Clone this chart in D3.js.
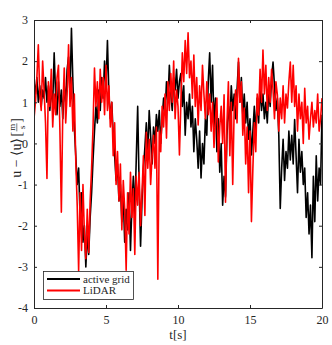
<!DOCTYPE html>
<html>
<head>
<meta charset="utf-8">
<script src="https://cdn.jsdelivr.net/npm/d3@7"></script>
<style>
  body { margin: 0; background: #fff; }
  text { font-family: "Liberation Serif", "DejaVu Serif", serif; fill: #262626; }
</style>
</head>
<body>
<div id="chart"></div>
<script>
// sampling of both records (seconds)
var tStart = 0, tStep = 0.1;

// velocity fluctuation u - <u> [m/s], one value per sample
var activeGrid = [
  1.5, 1.2, 1.6, 1.0, 1.4, 0.9, 1.3, 1.1, 1.6, 1.0,
  1.4, 0.8, 1.3, 1.0, 2.2, 1.2, 0.7, 1.5, 0.9, 1.3,
  0.6, 1.4, 1.0, 1.8, 2.1, 1.2, 2.8, 1.5, 0.4, -0.3,
  -1.0, -0.6, -1.8, -1.2, -2.4, -2.0, -3.0, -2.2, -2.7, -1.8,
  -1.2, -0.4, 0.3, 0.9, 0.5, 1.3, 0.8, 1.6, 1.1, 2.0,
  1.4, 2.5, 1.2, 0.6, 1.0, 0.2, -0.3, -0.9, -0.5, -1.4,
  -1.0, -1.9, -1.3, -2.4, -1.6, -2.1, -1.2, -2.6, -1.5, -0.8,
  -1.7, -0.4, 0.9, -1.0, -2.5, -1.4, -0.6, -0.1, 0.5, -0.3,
  0.8, 0.2, -0.5, 0.4, 0.0, 0.7, 0.3, 0.8, 0.0, 0.6,
  1.1, 0.7, 1.5, 1.0, 1.9, 1.2, 0.8, 1.6, 1.3, 1.8,
  1.1, 1.5, 1.7, 0.9, 1.4, 0.2, 1.0, 0.6, 1.2, 0.4,
  0.9, -0.2, 0.6, 0.1, -0.6, 0.3, -0.84, 0.0, -0.5, 0.6,
  0.2, 1.5, 2.2, 1.0, 1.9, 0.4, 1.1, -0.2, 0.6, -0.7,
  0.0, -1.5, -0.8, -1.3, 0.2, 0.9, 0.5, 1.4, 0.8, 1.2,
  0.6, 1.3, 1.98, 1.0, 1.6, 0.7, 1.2, 0.5, 1.0, 0.1,
  0.6, -0.28, 0.3, 0.9, 0.2, 1.1, 0.5, 1.4, 0.8, 1.2,
  0.6, 1.0, 0.5, 1.3, 0.9, 1.6, 1.98, 1.4, 0.8, 1.1,
  0.2, -1.58, -0.6, 0.1, -0.9, -0.2, -0.6, 0.3, -0.4, 0.2,
  -0.5, 0.58, -0.3, -1.2, 0.1, -0.7, -0.2, -1.0, -0.6, -1.8,
  -1.2, -2.2, -1.5, -2.78, -0.8, -1.9, -0.3, -1.4, -0.6, -1.0,
  0.7
];

var lidar = [
  0.6, 1.0, 1.6, 2.4, 1.2, 0.8, 2.0, 1.3, 0.5, -0.85,
  1.5, 0.9, 1.8, 0.4, 1.2, 0.7, 1.6, 1.9, 0.3, -1.67,
  0.8, 1.83, 0.5, 1.2, 2.4, 0.9, 1.6, 0.3, 1.2, -0.4,
  -1.5, -3.1, -1.2, -2.6, -1.0, -2.2, -2.8, -1.6, -2.65, -1.4,
  -0.6, 0.4, 1.83, 0.9, 1.5, 0.6, 1.8, 1.0, 1.6, 0.7,
  1.9, 0.8, 1.4, 0.4, 1.0, -0.3, 0.5, -1.0, -0.2, -1.4,
  -0.5, -2.1, -0.9, -1.6, -3.08, -1.2, -2.2, -0.7, -1.8, -1.1,
  -2.7, -0.8, -1.5, -0.7, -2.0, -1.2, -0.3, -1.75, 0.27, -0.6,
  0.1, -1.0, -0.3, 0.2, -0.6, 0.4, -3.3, 0.3, -0.2, 0.9,
  0.4, 1.2, 0.13, 1.5, 0.8, 1.7, 1.0, 2.0, 0.6, 1.3,
  0.9, -0.28, 1.0, 2.2, 1.5, 2.5, 1.7, 2.69, 1.6, 2.0,
  1.1, 2.15, 0.9, 1.6, 0.45, 1.4, 0.8, 1.9, 1.2, 0.6,
  1.5, 0.7, 1.2, 0.3, 1.0, -0.1, 0.6, 1.1, -0.45, 0.4,
  0.9, 0.0, 1.18, -1.43, 0.5, 1.5, -0.3, 1.0, -1.0, 0.8,
  1.3, 0.5, 2.07, 1.0, 1.5, 0.2, 0.86, -0.5, 0.4, -1.2,
  0.3, -1.9, -0.6, 0.5, -0.2, 1.2, 0.69, 1.8, 1.0, 2.27,
  1.2, 1.9, 0.8, 1.6, 1.0, 1.8, 1.3, 0.6, 1.5, 1.18,
  0.3, 1.1, 0.6, 1.4, 0.5, 1.2, 0.86, 1.5, 1.98, 1.0,
  1.9, 0.9, 1.4, 0.3, 1.2, 0.6, 1.0, 0.0, 1.34, 0.5,
  0.9, 0.1, 0.6, 1.0, 0.4, 0.8, 0.5, 1.2, 0.3, 0.6,
  1.1
];

var seriesNames = ["active grid", "LiDAR"];
var seriesColors = ["#000000", "#ff0000"];
var xTicks = [0, 5, 10, 15, 20];
var yTicks = [-4, -3, -2, -1, 0, 1, 2, 3];

// set the dimensions and margins of the graph
var margin = {top: 20, right: 10, bottom: 37, left: 34},
    outerWidth = 332, outerHeight = 345,
    width = outerWidth - margin.left - margin.right,
    height = outerHeight - margin.top - margin.bottom;

var axisColor = "#262626", tickLen = 3;
var fontStack = "'Liberation Serif', 'DejaVu Serif', serif";

var svg = d3.select("#chart").append("svg")
    .attr("width", outerWidth)
    .attr("height", outerHeight);

var g = svg.append("g")
    .attr("transform", "translate(" + margin.left + "," + margin.top + ")");

// set the ranges
var x = d3.scaleLinear().domain([0, 20]).range([0, width]);
var y = d3.scaleLinear().domain([-4, 3]).range([height, 0]);

// clip lines to the axes box
g.append("clipPath").attr("id", "plotClip")
  .append("rect").attr("width", width).attr("height", height);

var line = d3.line()
    .x(function(d) { return x(d.t); })
    .y(function(d) { return y(d.v); });

function toPoints(values) {
  return values.map(function(v, i) { return {t: tStart + i * tStep, v: v}; });
}

[activeGrid, lidar].forEach(function(values, i) {
  g.append("path")
    .datum(toPoints(values))
    .attr("clip-path", "url(#plotClip)")
    .attr("fill", "none")
    .attr("stroke", seriesColors[i])
    .attr("stroke-width", 1.6)
    .attr("stroke-linejoin", "round")
    .attr("d", line);
});

// axes: ticks pointing inward on all four sides
function plain(d) { return String(d); }   // hyphen minus like the original

function styleAxis(sel) {
  sel.select(".domain").attr("stroke", axisColor);
  sel.selectAll(".tick line").attr("stroke", axisColor);
  sel.selectAll(".tick text")
    .style("font-family", fontStack)
    .style("font-size", "12px")
    .attr("fill", axisColor);
}

g.append("g")
    .attr("transform", "translate(0," + height + ")")
    .call(d3.axisBottom(x).tickValues(xTicks).tickFormat(plain).tickSizeInner(-tickLen).tickSizeOuter(0).tickPadding(7))
    .call(styleAxis);
g.append("g")
    .call(d3.axisTop(x).tickValues(xTicks).tickSizeInner(-tickLen).tickSizeOuter(0).tickFormat(""))
    .call(styleAxis);
g.append("g")
    .call(d3.axisLeft(y).tickValues(yTicks).tickFormat(plain).tickSizeInner(-tickLen).tickSizeOuter(0).tickPadding(6))
    .call(styleAxis);
g.append("g")
    .attr("transform", "translate(" + width + ",0)")
    .call(d3.axisRight(y).tickValues(yTicks).tickSizeInner(-tickLen).tickSizeOuter(0).tickFormat(""))
    .call(styleAxis);

// x label
svg.append("text")
    .attr("x", margin.left + width / 2)
    .attr("y", 339)
    .attr("text-anchor", "middle")
    .style("font-size", "13px")
    .text("t[s]");

// y label with a small m/s fraction, built in rotated frame
var yl = svg.append("g");
var cursor = 0;
function addPart(str, size, dy) {
  var t = yl.append("text").attr("x", cursor).attr("y", dy || 0)
    .style("font-size", size + "px").text(str);
  return {node: t, w: t.node().getComputedTextLength()};
}
var p1 = addPart("u \u2212 \u27E8u\u27E9", 14);
cursor += p1.w + 1.5;
var p2 = addPart("[", 14);
cursor += p2.w + 0.5;
var num = addPart("m", 9, -6);
var den = addPart("s", 9, 3.5);
var fracW = Math.max(num.w, den.w) + 1;
num.node.attr("x", cursor + (fracW - num.w) / 2);
den.node.attr("x", cursor + (fracW - den.w) / 2);
yl.append("line")
    .attr("x1", cursor).attr("x2", cursor + fracW)
    .attr("y1", -4.2).attr("y2", -4.2)
    .attr("stroke", axisColor).attr("stroke-width", 0.6);
cursor += fracW + 0.5;
var p3 = addPart("]", 14);
cursor += p3.w;
yl.attr("transform", "translate(21," + (148 + cursor / 2) + ") rotate(-90)");

// legend
var legend = svg.append("g").attr("transform", "translate(43.5,271.5)");
legend.append("rect")
    .attr("width", 90).attr("height", 28)
    .attr("fill", "#fff")
    .attr("stroke", axisColor)
    .attr("stroke-width", 0.8);
seriesNames.forEach(function(name, i) {
  var ly = 7.5 + i * 11.5;
  legend.append("line")
    .attr("x1", 3.5).attr("x2", 36.5)
    .attr("y1", ly).attr("y2", ly)
    .attr("stroke", seriesColors[i])
    .attr("stroke-width", 2);
  legend.append("text")
    .attr("x", 39.5).attr("y", ly + 3.8)
    .style("font-size", "11px")
    .text(name);
});
</script>
</body>
</html>
